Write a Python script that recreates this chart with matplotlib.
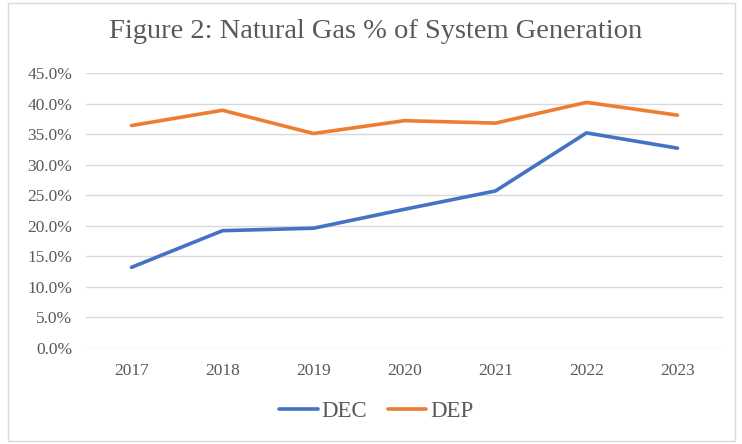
import matplotlib
matplotlib.use("Agg")
import matplotlib.pyplot as plt
from matplotlib.patches import Rectangle
from matplotlib.ticker import FuncFormatter

years = ["2017", "2018", "2019", "2020", "2021", "2022", "2023"]
dec = [13.2, 19.2, 19.6, 22.7, 25.7, 35.2, 32.7]
dep = [36.4, 38.9, 35.1, 37.2, 36.8, 40.2, 38.1]
yticks = [0, 5, 10, 15, 20, 25, 30, 35, 40, 45]

plt.rcParams["font.family"] = ["Liberation Serif", "DejaVu Serif"]

fig = plt.figure(figsize=(7.42, 4.44), dpi=100)
# light frame round the whole chart, like the Excel chart area
fig.patches.append(Rectangle((8 / 742, 3 / 444), 727 / 742, 438 / 444,
                             transform=fig.transFigure, fill=False,
                             edgecolor="#d9d9d9", lw=1))

ax = fig.add_axes([86 / 742, 1 - 348 / 444, 637 / 742, 275 / 444])
x = range(len(years))
ax.plot(x, dec, color="#4472c4", lw=2.6, label="DEC", solid_capstyle="round")
ax.plot(x, dep, color="#ed7d31", lw=2.6, label="DEP", solid_capstyle="round")

ax.set_xlim(-0.5, len(years) - 0.5)
ax.set_ylim(0, 45)
ax.set_yticks(yticks)
ax.yaxis.set_major_formatter(FuncFormatter(lambda v, p: f"{v:.1f}%"))
ax.set_xticks(list(x))
ax.set_xticklabels(years)
ax.grid(axis="y", color="#d9d9d9", lw=1)
ax.set_axisbelow(True)
for s in ax.spines.values():
    s.set_visible(False)
ax.tick_params(length=0, labelsize=12.5, colors="#595959")
ax.tick_params(axis="x", pad=11)
ax.tick_params(axis="y", pad=10)

fig.text(376 / 742, 1 - 38 / 444, "Figure 2: Natural Gas % of System Generation",
         ha="center", va="baseline", fontsize=20.5, color="#595959")

fig.legend(loc="center", bbox_to_anchor=(376 / 742, 1 - 411 / 444), ncol=2,
           frameon=False, fontsize=16.5, handlelength=1.7, handletextpad=0.15,
           columnspacing=0.9, labelcolor="#595959")

fig.savefig("out.png", dpi=100)
